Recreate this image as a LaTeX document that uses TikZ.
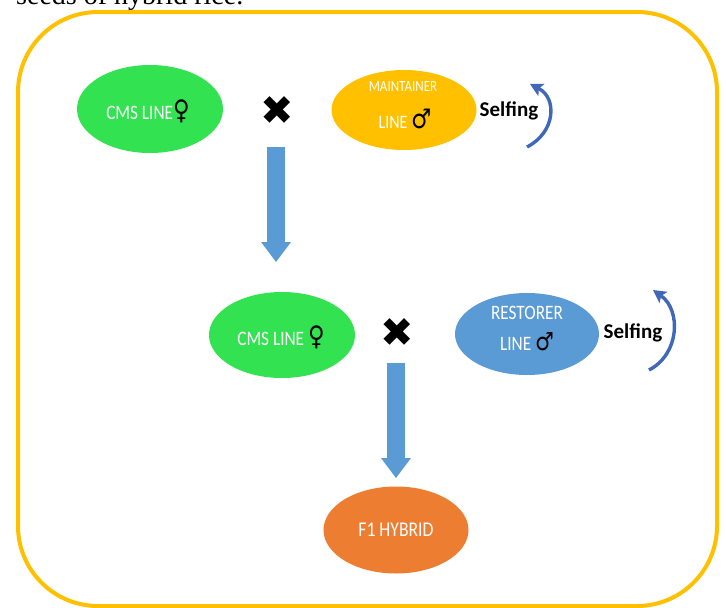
\documentclass[tikz,border=0pt]{standalone}
\usepackage{fontspec}
\setmainfont{Carlito}
\newfontfamily\capserif{Liberation Serif}
\newfontfamily\symf{DejaVu Sans}
\usetikzlibrary{shapes.geometric,arrows.meta}
\definecolor{bord}{HTML}{FFC000}
\definecolor{cmsg}{RGB}{50,226,80}
\definecolor{maint}{HTML}{FFC000}
\definecolor{rest}{HTML}{5B9BD5}
\definecolor{hyb}{HTML}{ED7D31}
\definecolor{barrow}{HTML}{5B9BD5}
\definecolor{selfc}{HTML}{4068B8}
\newcommand{\fem}{{\color{black}\symf\fontsize{27}{27}\selectfont ♀}}
\newcommand{\mal}[1]{{\color{black}\symf\fontsize{#1}{#1}\selectfont ♂}}
\tikzset{
  oval/.style={ellipse, draw=none, inner sep=0pt},
  wtxt/.style={text=white, inner sep=0pt, xscale=0.84},
  blockarrow/.style={draw=barrow, line width=18pt, -{Triangle[length=20pt,width=30pt,line width=0pt,fill=barrow]}},
  selfarrow/.style={draw=selfc, line width=3.4pt, -{Stealth[length=13pt,width=14pt,inset=3pt,line width=0pt]}},
  selftxt/.style={font=\bfseries\fontsize{21}{21}\selectfont, inner sep=0pt},
  crossmark/.style={font=\symf\fontsize{40}{40}\selectfont, inner sep=0pt}
}
\begin{document}
\begin{tikzpicture}[x=1pt,y=-1pt]
\useasboundingbox (0,0) rectangle (726,608);
\clip (0,0) rectangle (726,608);
\node[anchor=base west, inner sep=0pt, font=\capserif\fontsize{28}{28}\selectfont] (cap) at (16,4) {seeds of hybrid rice.};
\draw[bord, line width=4pt, rounded corners=80pt] (18,12) rectangle (717,606);

% top row
\node[oval, fill=cmsg, minimum width=146pt, minimum height=88pt] (cms1) at (150,109) {};
\node[wtxt, font=\fontsize{20.5}{20.5}\selectfont] (cms1t) at (148,111) {CMS LINE\fem};
\node[crossmark] (x1) at (277,111) {✖};
\node[oval, fill=maint, minimum width=145pt, minimum height=80pt] (main) at (404,110) {};
\node[wtxt, font=\fontsize{15.5}{15.5}\selectfont] (maint1) at (403,87) {MAINTAINER};
\node[wtxt, font=\fontsize{19}{19}\selectfont] (maint2) at (405,119) {LINE \mal{27}};
\node[selftxt] (self1) at (509,111) {Selfing};
\coordinate (s1a) at (527,147);
\coordinate (s1b) at (530,84);
\draw[selfarrow] (s1a) .. controls (556,132) and (557,98) .. (s1b);

% middle row
\coordinate (b1s) at (276,147);
\coordinate (b1e) at (276,262);
\draw[blockarrow] (b1s) -- (b1e);
\node[oval, fill=cmsg, minimum width=146pt, minimum height=86pt] (cms2) at (282,335) {};
\node[wtxt, font=\fontsize{20.5}{20.5}\selectfont] (cms2t) at (281,337) {CMS LINE \fem};
\node[crossmark] (x2) at (397,333) {✖};
\node[oval, fill=rest, minimum width=144pt, minimum height=82pt] (restn) at (527,334) {};
\node[wtxt, font=\fontsize{20.5}{20.5}\selectfont] (rest1) at (527,313) {RESTORER};
\node[wtxt, font=\fontsize{20.5}{20.5}\selectfont] (rest2) at (527,342) {LINE \mal{25}};
\node[selftxt] (self2) at (633,333) {Selfing};
\coordinate (s2a) at (649,370);
\coordinate (s2b) at (653,290);
\draw[selfarrow] (s2a) .. controls (680,354) and (681,310) .. (s2b);

% bottom
\coordinate (b2s) at (396,363);
\coordinate (b2e) at (396,478);
\draw[blockarrow] (b2s) -- (b2e);
\node[oval, fill=hyb, minimum width=145pt, minimum height=87pt] (f1) at (396,530) {};
\node[wtxt, font=\fontsize{21}{21}\selectfont] (f1t) at (396,530) {F1 HYBRID};
\end{tikzpicture}
\end{document}
